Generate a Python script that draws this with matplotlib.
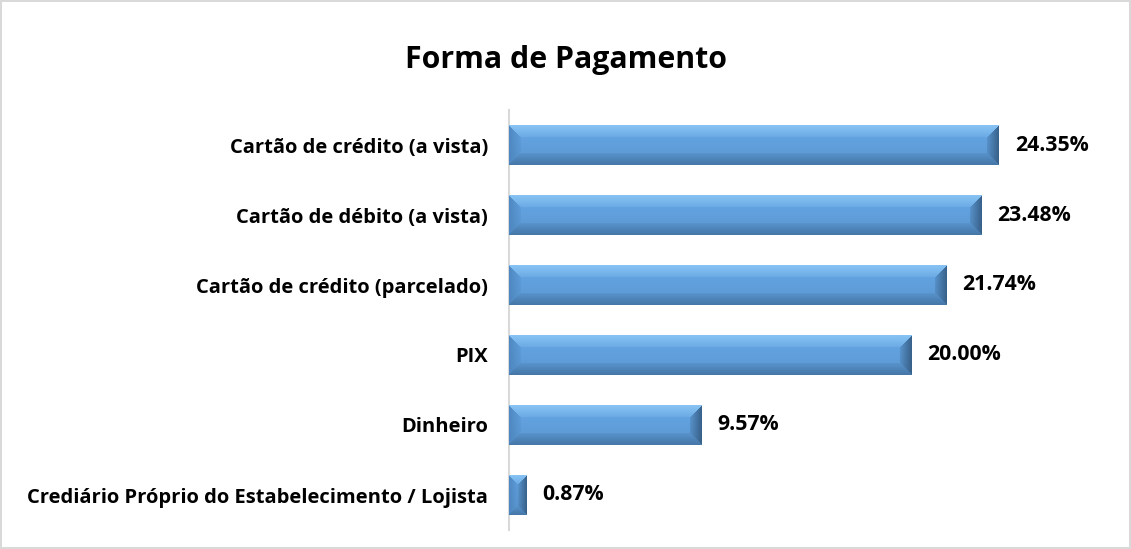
import matplotlib
matplotlib.use('Agg')
import matplotlib.pyplot as plt
import numpy as np

plt.rcParams['font.family'] = ['Open Sans', 'DejaVu Sans']

# data
categorias = ['Cartão de crédito (a vista)', 'Cartão de débito (a vista)',
              'Cartão de crédito (parcelado)', 'PIX', 'Dinheiro',
              'Crediário Próprio do Estabelecimento / Lojista']
valores = [24.35, 23.48, 21.74, 20.00, 9.57, 0.87]
titulo = 'Forma de Pagamento'

W, H = 1131, 549
fig = plt.figure(figsize=(W / 100, H / 100), dpi=100)
fig.patch.set_edgecolor('#D9D9D9')
fig.patch.set_linewidth(1.5)

ax = fig.add_axes([509 / W, 19 / H, 580 / W, 420 / H])
ypos = np.arange(len(categorias))
bars = ax.barh(ypos, valores, height=0.57, color='#5B9BD5', zorder=2)
ax.set_xlim(0, 580 / 20.12)
ax.set_ylim(len(categorias) - 0.5, -0.5)

ax.set_yticks(ypos)
ax.set_yticklabels(categorias, fontsize=14.5, fontweight='bold')
ax.tick_params(axis='y', length=0, pad=15)
ax.set_xticks([])
for s in ['top', 'right', 'bottom']:
    ax.spines[s].set_visible(False)
ax.spines['left'].set_color('#D9D9D9')
ax.spines['left'].set_linewidth(1.5)

# bevel shading for each bar
base = np.array([0.38, 0.63, 0.87])
topc = np.array([0.55, 0.78, 0.96])
botc = np.array([0.26, 0.45, 0.64])
rgtc = np.array([0.20, 0.35, 0.50])
lftc = np.array([0.30, 0.52, 0.74])
px_per_x = 580 / ax.get_xlim()[1]
px_per_y = 420 / len(categorias)
for b in bars:
    x0, y0 = b.get_x(), b.get_y()
    w, h = b.get_width(), b.get_height()
    nw = max(int(round(w * px_per_x)), 2)
    nh = max(int(round(h * px_per_y)), 2)
    bev = min(12, nw / 2, nh / 2)
    xx, yy = np.meshgrid(np.arange(nw) + 0.5, np.arange(nh) + 0.5)
    d = np.stack([yy, nh - yy, xx, nw - xx])  # top, bottom, left, right
    k = d.argmin(axis=0)
    dm = d.min(axis=0)
    img = np.tile(base, (nh, nw, 1))
    grad = (yy / nh)[..., None]
    img = np.clip(img * (1.04 - 0.1 * grad), 0, 1)
    for i, c in enumerate([topc, botc, lftc, rgtc]):
        m = (k == i) & (dm < bev)
        t = (1 - dm / bev)[..., None] * 0.7 + 0.2
        img = np.where(m[..., None], img * (1 - t) + c * t, img)
    ax.imshow(img, extent=(x0, x0 + w, y0 + h, y0), aspect='auto',
              interpolation='bilinear', zorder=3)
    ax.text(w + 16 / px_per_x, y0 + h / 2, f'{w:.2f}%', va='center',
            ha='left', fontsize=15.3, fontweight='bold', zorder=4)

ax.set_xlim(0, 580 / 20.12)
ax.set_ylim(len(categorias) - 0.5, -0.5)

fig.text(566 / W, 1 - 60 / H, titulo, ha='center', va='center',
         fontsize=21.8, fontweight='bold')

fig.savefig('out.png', dpi=100)
